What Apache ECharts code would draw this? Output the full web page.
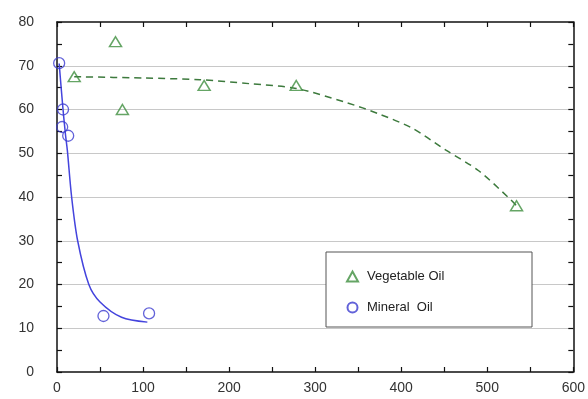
<!DOCTYPE html>
<html>
<head>
<meta charset="utf-8">
<script src="https://cdn.jsdelivr.net/npm/echarts@6/dist/echarts.min.js"></script>
<style>
  html, body { margin: 0; padding: 0; background: #fff; }
  #chart { width: 588px; height: 399px; }
</style>
</head>
<body>
<div id="chart"></div>
<script>
// Measured points
var vegetableOil = [[20, 67.5], [68, 75.5], [76, 60], [171, 65.5], [278, 65.5], [534, 38]];
var mineralOil = [[2.5, 70.6], [7, 60], [6, 56], [13, 54], [54, 12.8], [107, 13.4]];

// Fitted trend curves
var vegetableFit = [[20, 67.5], [100, 67.2], [166, 66.8], [224, 65.9], [278, 64.8], [336, 61.6],
                    [374, 59], [413, 55.7], [452, 50.7], [490, 46], [525, 39.8], [535, 37.8]];
var mineralFit = [[2.5, 70.5], [7, 60], [10, 54], [12, 50.7], [17, 40], [24, 30], [37, 20],
                  [50, 16], [75, 12.5], [105, 11.4]];

var legendNames = ['Vegetable Oil', 'Mineral  Oil'];

var green = '#3f8f3f';
var blue = '#3b3bcf';
var axisColor = '#111';
var labelFont = { fontFamily: 'Liberation Sans, Arial, sans-serif', fontSize: 14, color: '#333' };

var chart = echarts.init(document.getElementById('chart'));

var tickStyle = { show: true, inside: true, length: 5, lineStyle: { color: axisColor, width: 1.2 } };
var minorTickStyle = { show: true, splitNumber: 2, length: 5, lineStyle: { color: axisColor, width: 1.2 } };

chart.setOption({
  animation: false,
  backgroundColor: '#fff',
  grid: { left: 57, top: 22, right: 13, bottom: 27, show: false },
  xAxis: [{
    type: 'value', min: 0, max: 600, interval: 100, position: 'bottom',
    axisLine: { show: true, lineStyle: { color: axisColor, width: 1.5 } },
    axisTick: tickStyle,
    minorTick: Object.assign({}, minorTickStyle),
    splitLine: { show: false },
    axisLabel: Object.assign({ margin: 9 }, labelFont)
  }, {
    type: 'value', min: 0, max: 600, interval: 100, position: 'top',
    axisLine: { show: true, onZero: false, lineStyle: { color: axisColor, width: 1.5 } },
    axisTick: tickStyle,
    minorTick: Object.assign({}, minorTickStyle),
    splitLine: { show: false },
    axisLabel: { show: false }
  }],
  yAxis: [{
    type: 'value', min: 0, max: 80, interval: 10, position: 'left',
    axisLine: { show: true, lineStyle: { color: axisColor, width: 1.5 } },
    axisTick: tickStyle,
    minorTick: Object.assign({}, minorTickStyle),
    splitLine: { show: true, showMinLine: false, showMaxLine: false, lineStyle: { color: '#c8c8c8', width: 1.2 } },
    axisLabel: Object.assign({ margin: 23 }, labelFont)
  }, {
    type: 'value', min: 0, max: 80, interval: 10, position: 'right',
    axisLine: { show: true, onZero: false, lineStyle: { color: axisColor, width: 1.5 } },
    axisTick: tickStyle,
    minorTick: Object.assign({}, minorTickStyle),
    splitLine: { show: false },
    axisLabel: { show: false }
  }],
  graphic: [{
    type: 'rect', z: 5, zlevel: 0,
    shape: { x: 326, y: 252, width: 206, height: 75 },
    style: { fill: '#fff', stroke: '#555', lineWidth: 1 }
  }],
  legend: {
    data: legendNames,
    orient: 'vertical',
    left: 341, top: 265,
    z: 10,
    itemGap: 18,
    itemWidth: 11, itemHeight: 10,
    textStyle: { fontFamily: 'Liberation Sans, Arial, sans-serif', fontSize: 13, color: '#222', padding: [0, 0, 0, 4] }
  },
  series: [{
    name: 'vegetable-fit', type: 'line', data: vegetableFit,
    smooth: 0.3, showSymbol: false, silent: true,
    lineStyle: { color: '#3d7a3d', width: 1.5, type: [7, 5] }, z: 2
  }, {
    name: 'mineral-fit', type: 'line', data: mineralFit,
    smooth: 0.3, showSymbol: false, silent: true,
    lineStyle: { color: '#4444dd', width: 1.5 }, z: 2
  }, {
    name: legendNames[0], type: 'scatter', data: vegetableOil,
    symbol: 'triangle', symbolSize: [12, 10],
    itemStyle: { color: 'rgba(255,255,255,0)', borderColor: green, borderWidth: 1.5 }, z: 3
  }, {
    name: legendNames[1], type: 'scatter', data: mineralOil,
    symbol: 'circle', symbolSize: 11,
    itemStyle: { color: 'rgba(255,255,255,0)', borderColor: blue, borderWidth: 1.3 }, z: 3
  }]
});
</script>
</body>
</html>
